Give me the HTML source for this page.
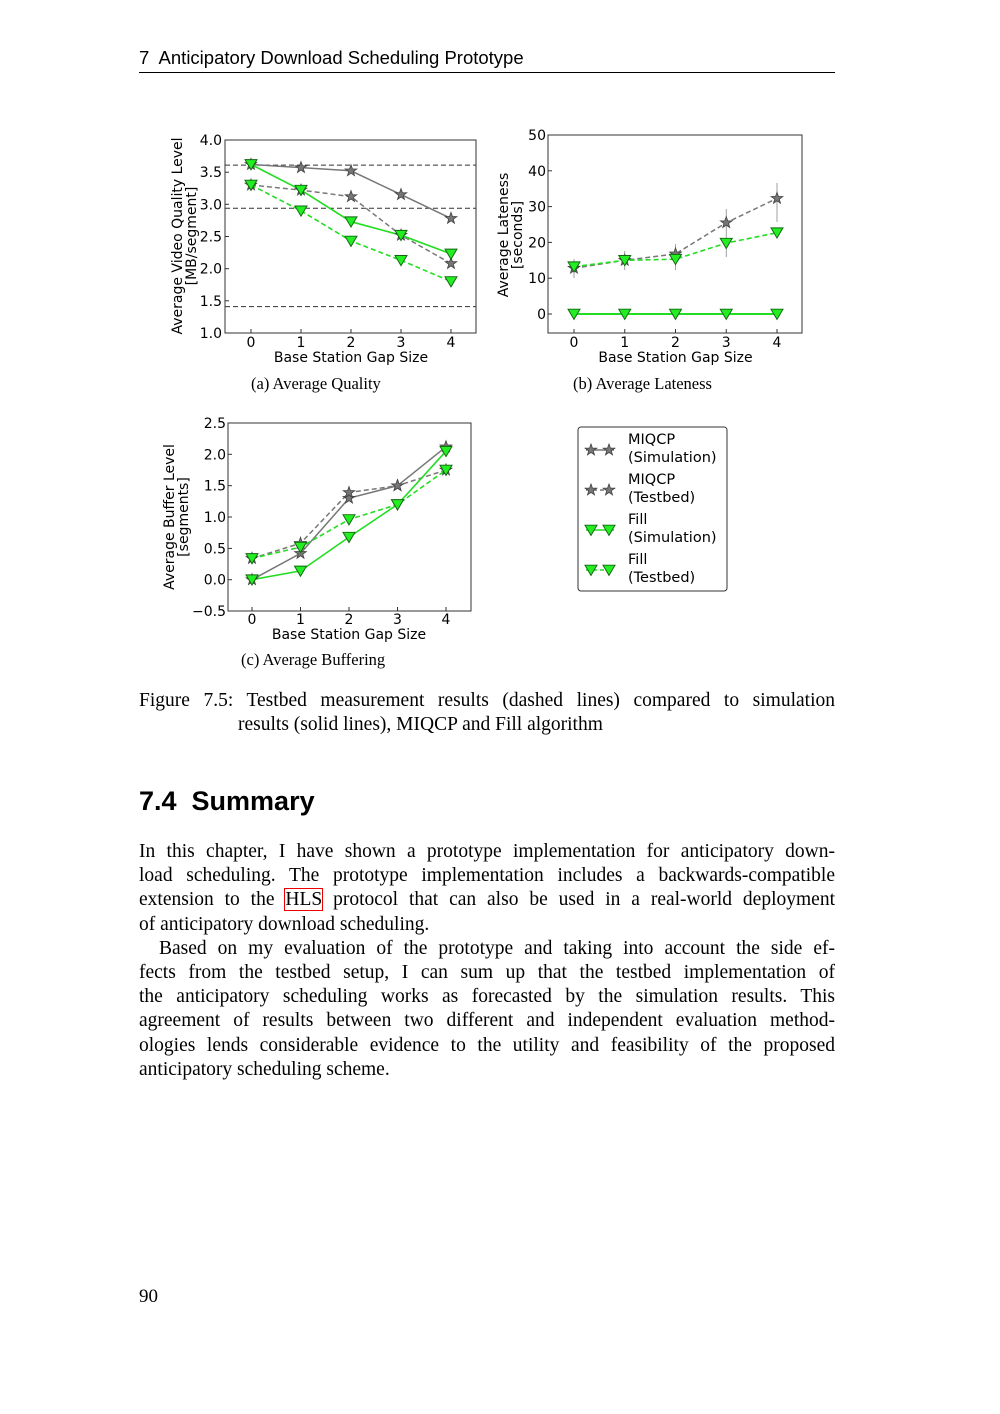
<!DOCTYPE html><html><head><style>
body{margin:0;width:1000px;height:1414px;background:#fff;position:relative;overflow:hidden}
.s{font-family:"Liberation Serif",serif;color:#000;position:absolute}
.t{font-family:"Liberation Sans",sans-serif}
.j div{text-align:justify;text-align-last:justify;height:24.2px;white-space:nowrap}
.j div.l{text-align-last:left}
</style></head><body>
<div class="t" style="position:absolute;left:139px;top:47px;font-size:18.5px">7&nbsp; Anticipatory Download Scheduling Prototype</div>
<div style="position:absolute;left:139px;top:72px;width:696px;height:1px;background:#000"></div>
<svg width="1000" height="700" style="position:absolute;left:0;top:0" font-family="DejaVu Sans, Liberation Sans, sans-serif" font-size="14">
<defs>
<symbol id="st" viewBox="-5 -5 10 10" overflow="visible"><polygon points="0,-5 1.2,-1.6 4.8,-1.5 1.9,0.6 2.9,4 0,2 -2.9,4 -1.9,0.6 -4.8,-1.5 -1.2,-1.6" fill="#777" stroke="#444" stroke-width="0.7"/></symbol>
<symbol id="tr" viewBox="-5 -5 10 10" overflow="visible"><polygon points="-5,-4 5,-4 0,4.5" fill="#22ee22" stroke="#116611" stroke-width="0.8"/></symbol>
</defs>
<g stroke="#333" stroke-width="1" stroke-dasharray="5,3"><line x1="225" x2="476" y1="165.1" y2="165.1"/><line x1="225" x2="476" y1="208.2" y2="208.2"/><line x1="225" x2="476" y1="306.6" y2="306.6"/></g>
<polyline fill="none" stroke="#777" stroke-width="1.5" points="251,164.4 301,167.6 351,170.8 401,194.6 451,218.4"/>
<polyline fill="none" stroke="#777" stroke-width="1.5" stroke-dasharray="5,3" points="251,185 301,190.1 351,196.6 401,235.2 451,263.5"/>
<polyline fill="none" stroke="#22dd22" stroke-width="1.6" points="251,164.4 301,190.1 351,221.7 401,235.2 451,253.9"/>
<polyline fill="none" stroke="#22dd22" stroke-width="1.6" stroke-dasharray="5,3" points="251,185 301,210.8 351,241 401,260.3 451,281.5"/>
<g><use href="#st" x="245" y="158.4" width="12" height="12"/><use href="#st" x="295" y="161.6" width="12" height="12"/><use href="#st" x="345" y="164.8" width="12" height="12"/><use href="#st" x="395" y="188.6" width="12" height="12"/><use href="#st" x="445" y="212.4" width="12" height="12"/>
<use href="#st" x="245" y="179" width="12" height="12"/><use href="#st" x="295" y="184.1" width="12" height="12"/><use href="#st" x="345" y="190.6" width="12" height="12"/><use href="#st" x="395" y="229.2" width="12" height="12"/><use href="#st" x="445" y="257.5" width="12" height="12"/>
<use href="#tr" x="245" y="158.4" width="12" height="12"/><use href="#tr" x="295" y="184.1" width="12" height="12"/><use href="#tr" x="345" y="215.7" width="12" height="12"/><use href="#tr" x="395" y="229.2" width="12" height="12"/><use href="#tr" x="445" y="247.9" width="12" height="12"/>
<use href="#tr" x="245" y="179" width="12" height="12"/><use href="#tr" x="295" y="204.8" width="12" height="12"/><use href="#tr" x="345" y="235" width="12" height="12"/><use href="#tr" x="395" y="254.3" width="12" height="12"/><use href="#tr" x="445" y="275.5" width="12" height="12"/></g>
<rect x="225" y="140" width="251" height="193" fill="none" stroke="#333"/>
<g stroke="#333"><line x1="225" x2="229" y1="172.2" y2="172.2"/><line x1="225" x2="229" y1="204.3" y2="204.3"/><line x1="225" x2="229" y1="236.5" y2="236.5"/><line x1="225" x2="229" y1="268.7" y2="268.7"/><line x1="225" x2="229" y1="300.8" y2="300.8"/>
<line x1="251" x2="251" y1="333" y2="329"/><line x1="301" x2="301" y1="333" y2="329"/><line x1="351" x2="351" y1="333" y2="329"/><line x1="401" x2="401" y1="333" y2="329"/><line x1="451" x2="451" y1="333" y2="329"/></g>
<g text-anchor="end"><text x="222" y="145">4.0</text><text x="222" y="177.2">3.5</text><text x="222" y="209.3">3.0</text><text x="222" y="241.5">2.5</text><text x="222" y="273.7">2.0</text><text x="222" y="305.8">1.5</text><text x="222" y="338">1.0</text></g>
<g text-anchor="middle"><text x="251" y="347">0</text><text x="301" y="347">1</text><text x="351" y="347">2</text><text x="401" y="347">3</text><text x="451" y="347">4</text><text x="351" y="362">Base Station Gap Size</text>
<text transform="translate(182,236) rotate(-90)">Average Video Quality Level</text><text transform="translate(196,236) rotate(-90)">[MB/segment]</text></g>
<g stroke="#888" stroke-width="0.8"><line x1="574" x2="574" y1="259" y2="278"/><line x1="624.75" x2="624.75" y1="251" y2="270"/><line x1="675.5" x2="675.5" y1="244" y2="270"/><line x1="726.25" x2="726.25" y1="209" y2="257"/><line x1="777" x2="777" y1="183" y2="222"/></g>
<polyline fill="none" stroke="#22dd22" stroke-width="2" points="574,314 777,314"/>
<polyline fill="none" stroke="#777" stroke-width="1.5" stroke-dasharray="5,3" points="574,268.2 624.75,260.3 675.5,253.9 726.25,222.7 777,198.4"/>
<polyline fill="none" stroke="#22dd22" stroke-width="1.6" stroke-dasharray="5,3" points="574,266.7 624.75,260.3 675.5,259.2 726.25,243.1 777,232.7"/>
<g><use href="#st" x="568" y="262.2" width="12" height="12"/><use href="#st" x="618.75" y="254.3" width="12" height="12"/><use href="#st" x="669.5" y="247.9" width="12" height="12"/><use href="#st" x="720.25" y="216.7" width="12" height="12"/><use href="#st" x="771" y="192.4" width="12" height="12"/>
<use href="#tr" x="568" y="260.7" width="12" height="12"/><use href="#tr" x="618.75" y="254.3" width="12" height="12"/><use href="#tr" x="669.5" y="253.2" width="12" height="12"/><use href="#tr" x="720.25" y="237.1" width="12" height="12"/><use href="#tr" x="771" y="226.7" width="12" height="12"/>
<use href="#tr" x="568" y="308" width="12" height="12"/><use href="#tr" x="618.75" y="308" width="12" height="12"/><use href="#tr" x="669.5" y="308" width="12" height="12"/><use href="#tr" x="720.25" y="308" width="12" height="12"/><use href="#tr" x="771" y="308" width="12" height="12"/></g>
<rect x="548" y="135" width="254" height="198" fill="none" stroke="#333"/>
<g stroke="#333"><line x1="548" x2="552" y1="170.8" y2="170.8"/><line x1="548" x2="552" y1="206.6" y2="206.6"/><line x1="548" x2="552" y1="242.4" y2="242.4"/><line x1="548" x2="552" y1="278.2" y2="278.2"/><line x1="548" x2="552" y1="314" y2="314"/>
<line x1="574" x2="574" y1="333" y2="329"/><line x1="624.75" x2="624.75" y1="333" y2="329"/><line x1="675.5" x2="675.5" y1="333" y2="329"/><line x1="726.25" x2="726.25" y1="333" y2="329"/><line x1="777" x2="777" y1="333" y2="329"/></g>
<g text-anchor="end"><text x="546" y="140">50</text><text x="546" y="175.8">40</text><text x="546" y="211.6">30</text><text x="546" y="247.4">20</text><text x="546" y="283.2">10</text><text x="546" y="319">0</text></g>
<g text-anchor="middle"><text x="574" y="347">0</text><text x="624.75" y="347">1</text><text x="675.5" y="347">2</text><text x="726.25" y="347">3</text><text x="777" y="347">4</text><text x="675.5" y="362">Base Station Gap Size</text>
<text transform="translate(508,235) rotate(-90)">Average Lateness</text><text transform="translate(522,235) rotate(-90)">[seconds]</text></g>
<polyline fill="none" stroke="#777" stroke-width="1.5" points="252,579.7 300.5,553.4 349,498.2 397.5,485.7 446,446.8"/>
<polyline fill="none" stroke="#777" stroke-width="1.5" stroke-dasharray="5,3" points="252,558.4 300.5,543.3 349,492.5 397.5,485.7 446,470"/>
<polyline fill="none" stroke="#22dd22" stroke-width="1.6" points="252,579.7 300.5,570.9 349,537.1 397.5,504.5 446,451.2"/>
<polyline fill="none" stroke="#22dd22" stroke-width="1.6" stroke-dasharray="5,3" points="252,558.4 300.5,547.1 349,519.5 397.5,504.5 446,470"/>
<g><use href="#st" x="246" y="573.7" width="12" height="12"/><use href="#st" x="294.5" y="547.4" width="12" height="12"/><use href="#st" x="343" y="492.2" width="12" height="12"/><use href="#st" x="391.5" y="479.7" width="12" height="12"/><use href="#st" x="440" y="440.8" width="12" height="12"/>
<use href="#st" x="246" y="552.4" width="12" height="12"/><use href="#st" x="294.5" y="537.3" width="12" height="12"/><use href="#st" x="343" y="486.5" width="12" height="12"/><use href="#st" x="391.5" y="479.7" width="12" height="12"/><use href="#st" x="440" y="464" width="12" height="12"/>
<use href="#tr" x="246" y="573.7" width="12" height="12"/><use href="#tr" x="294.5" y="564.9" width="12" height="12"/><use href="#tr" x="343" y="531.1" width="12" height="12"/><use href="#tr" x="391.5" y="498.5" width="12" height="12"/><use href="#tr" x="440" y="445.2" width="12" height="12"/>
<use href="#tr" x="246" y="552.4" width="12" height="12"/><use href="#tr" x="294.5" y="541.1" width="12" height="12"/><use href="#tr" x="343" y="513.5" width="12" height="12"/><use href="#tr" x="391.5" y="498.5" width="12" height="12"/><use href="#tr" x="440" y="464" width="12" height="12"/></g>
<rect x="228" y="423" width="243" height="188" fill="none" stroke="#333"/>
<g stroke="#333"><line x1="228" x2="232" y1="454.3" y2="454.3"/><line x1="228" x2="232" y1="485.7" y2="485.7"/><line x1="228" x2="232" y1="517" y2="517"/><line x1="228" x2="232" y1="548.4" y2="548.4"/><line x1="228" x2="232" y1="579.7" y2="579.7"/>
<line x1="252" x2="252" y1="611" y2="607"/><line x1="300.5" x2="300.5" y1="611" y2="607"/><line x1="349" x2="349" y1="611" y2="607"/><line x1="397.5" x2="397.5" y1="611" y2="607"/><line x1="446" x2="446" y1="611" y2="607"/></g>
<g text-anchor="end"><text x="226" y="428">2.5</text><text x="226" y="459.3">2.0</text><text x="226" y="490.7">1.5</text><text x="226" y="522">1.0</text><text x="226" y="553.4">0.5</text><text x="226" y="584.7">0.0</text><text x="226" y="616">−0.5</text></g>
<g text-anchor="middle"><text x="252" y="624">0</text><text x="300.5" y="624">1</text><text x="349" y="624">2</text><text x="397.5" y="624">3</text><text x="446" y="624">4</text><text x="349" y="639">Base Station Gap Size</text>
<text transform="translate(174,517) rotate(-90)">Average Buffer Level</text><text transform="translate(188,517) rotate(-90)">[segments]</text></g>
<rect x="578" y="427" width="149" height="164" rx="3" fill="#fff" stroke="#333"/>
<g font-size="14.5">
<line x1="586" x2="614" y1="450" y2="450" stroke="#777" stroke-width="1.5"/><use href="#st" x="585" y="444" width="12" height="12"/><use href="#st" x="603" y="444" width="12" height="12"/>
<text x="628" y="444">MIQCP</text><text x="628" y="462">(Simulation)</text>
<line x1="586" x2="614" y1="490" y2="490" stroke="#777" stroke-width="1.5" stroke-dasharray="4,3"/><use href="#st" x="585" y="484" width="12" height="12"/><use href="#st" x="603" y="484" width="12" height="12"/>
<text x="628" y="484">MIQCP</text><text x="628" y="502">(Testbed)</text>
<line x1="586" x2="614" y1="530" y2="530" stroke="#22dd22" stroke-width="1.6"/><use href="#tr" x="585" y="524" width="12" height="12"/><use href="#tr" x="603" y="524" width="12" height="12"/>
<text x="628" y="524">Fill</text><text x="628" y="542">(Simulation)</text>
<line x1="586" x2="614" y1="570" y2="570" stroke="#22dd22" stroke-width="1.6" stroke-dasharray="4,3"/><use href="#tr" x="585" y="564" width="12" height="12"/><use href="#tr" x="603" y="564" width="12" height="12"/>
<text x="628" y="564">Fill</text><text x="628" y="582">(Testbed)</text></g>
</svg>
<div class="s" style="left:251px;top:374px;font-size:16.5px">(a) Average Quality</div>
<div class="s" style="left:573px;top:374px;font-size:16.5px">(b) Average Lateness</div>
<div class="s" style="left:241px;top:650px;font-size:16.5px">(c) Average Buffering</div>
<div class="s j" style="left:139px;top:689px;width:696px;font-size:19.5px;line-height:24px">
<div>Figure 7.5: Testbed measurement results (dashed lines) compared to simulation</div>
<div class="l" style="padding-left:99px">results (solid lines), MIQCP and Fill algorithm</div></div>
<div class="t" style="position:absolute;left:139px;top:786px;font-size:27px;font-weight:bold">7.4&nbsp; Summary</div>
<div class="s j" style="left:139px;top:840px;width:696px;font-size:19.5px;line-height:24.2px">
<div>In this chapter, I have shown a prototype implementation for anticipatory down-</div>
<div>load scheduling. The prototype implementation includes a backwards-compatible</div>
<div>extension to the <span style="outline:1.5px solid #e00">HLS</span> protocol that can also be used in a real-world deployment</div>
<div class="l">of anticipatory download scheduling.</div>
<div style="padding-left:20px">Based on my evaluation of the prototype and taking into account the side ef-</div>
<div>fects from the testbed setup, I can sum up that the testbed implementation of</div>
<div>the anticipatory scheduling works as forecasted by the simulation results. This</div>
<div>agreement of results between two different and independent evaluation method-</div>
<div>ologies lends considerable evidence to the utility and feasibility of the proposed</div>
<div class="l">anticipatory scheduling scheme.</div></div>
<div class="s" style="left:139px;top:1286px;font-size:19px">90</div>
</body></html>
